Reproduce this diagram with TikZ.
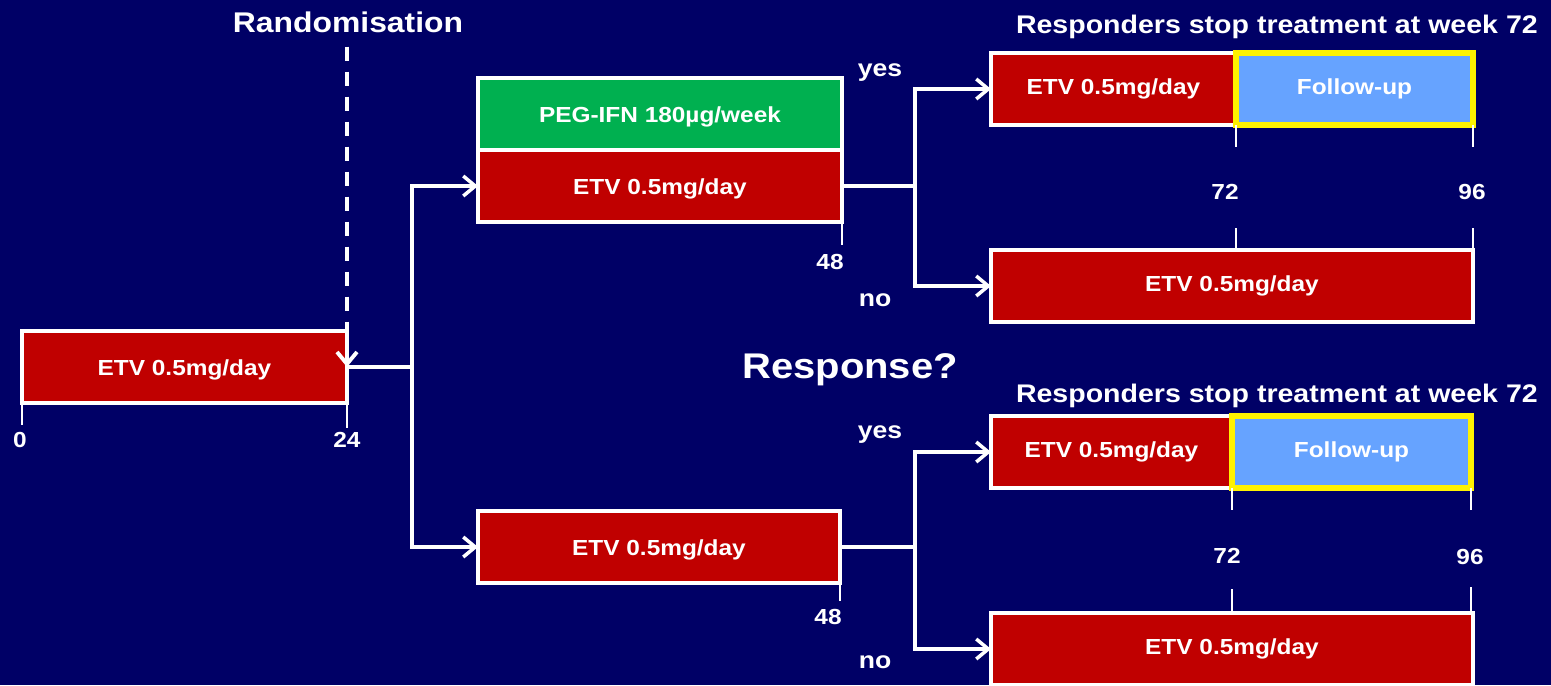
\documentclass[tikz,border=0pt]{standalone}
\usepackage{fontspec}
\setmainfont{Liberation Sans}[FakeStretch=1.12]
\usepackage{tikz}
\usetikzlibrary{positioning, arrows.meta, calc}

\definecolor{navybg}{HTML}{000066}
\definecolor{etvred}{HTML}{C00000}
\definecolor{peggreen}{HTML}{00B050}
\definecolor{fublue}{HTML}{66A3FF}

\begin{document}
\begin{tikzpicture}[
    bar/.style={draw=white, line width=2pt, text=white, inner sep=0pt, outer sep=0pt,
        minimum height=1.44cm, font=\bfseries\fontsize{12.4}{14}\selectfont},
    etv/.style={bar, fill=etvred},
    lowtext/.style={text height=1.1em, text depth=0.12em},
    link/.style={white, line width=2pt},
    arr/.style={link, -{Straight Barb[length=2.4mm, width=4mm]}},
    tick/.style={white, line width=1.3pt},
    lbl/.style={text=white, font=\bfseries\fontsize{12.4}{14}\selectfont},
    answer/.style={text=white, font=\bfseries\fontsize{13.5}{15}\selectfont},
    header/.style={text=white, anchor=east, font=\bfseries\fontsize{14.5}{16}\selectfont}
]
    % --- BACKGROUND ---
    \fill[navybg] (0,0) rectangle (31.02,-13.7);
    \useasboundingbox (0,0) rectangle (31.02,-13.7);

    % --- RUN-IN: WEEKS 0 TO 24 ---
    \node[etv, lowtext, minimum width=6.5cm] (start) at (3.69,-7.34) {ETV 0.5mg/day};
    \node[text=white, font=\bfseries\fontsize{16.2}{18}\selectfont] (randlbl) at (6.96,-0.44) {Randomisation};
    \draw[link, line width=2.2pt, dash pattern=on 0.28cm off 0.22cm, -{Straight Barb[length=2.4mm, width=4mm]}]
        ($(randlbl.south -| start.east)+(0,-0.16)$) -- (start.east);

    \draw[tick] (start.south west) -- ++(0,-0.44);
    \draw[tick] (start.south east) -- ++(0,-0.5);
    \node[lbl] (w0) at (0.4,-8.8) {0};
    \node[lbl] (w24) at (6.94,-8.8) {24};

    % --- RANDOMISED ARMS ---
    \node[bar, lowtext, fill=peggreen, minimum width=7.28cm] (pegA) at (13.2,-2.28) {PEG-IFN 180\textmu g/week};
    \node[etv, lowtext, minimum width=7.28cm, below=0pt of pegA] (etvA) {ETV 0.5mg/day};
    \node[etv, lowtext, minimum width=7.24cm] (etvB) at (13.18,-10.94) {ETV 0.5mg/day};

    \coordinate (jS) at ($(start.east)+(1.3,0)$);
    \draw[link] (start.east) -- (jS);
    \draw[arr] (jS) |- (etvA.west);
    \draw[arr] (jS) |- (etvB.west);

    \draw[tick] (etvA.south east) -- ++(0,-0.46);
    \draw[tick] (etvB.south east) -- ++(0,-0.36);
    \node[lbl] (w48a) at (16.6,-5.24) {48};
    \node[lbl] (w48b) at (16.56,-12.34) {48};

    \node[text=white, font=\bfseries\fontsize{20.3}{22}\selectfont] (resp) at (17.0,-7.4) {Response?};

    % --- UPPER ARM: RESPONSE AT WEEK 48 ---
    \node[header] (hdrA) at (30.88,-0.54) {Responders stop treatment at week 72};
    \node[etv, minimum width=4.9cm] (etvAy) at (22.27,-1.78) {ETV 0.5mg/day};
    \node[bar, fill=fublue, minimum width=4.74cm, right=0pt of etvAy] (fuAy) {Follow-up};
    \draw[yellow, line width=3pt] (fuAy.south west) rectangle (fuAy.north east);
    \node[etv, minimum width=9.64cm] (etvAn) at (24.64,-5.72) {ETV 0.5mg/day};

    \coordinate (jA) at ($(etvA.east)+(1.46,0)$);
    \draw[link] (etvA.east) -- (jA);
    \draw[arr] (jA) |- (etvAy.west);
    \draw[arr] (jA) |- (etvAn.west);
    \node[answer] (yesA) at (17.6,-1.46) {yes};
    \node[answer] (noA) at (17.5,-6.0) {no};

    \draw[tick] (fuAy.south west) -- ++(0,-0.44);
    \draw[tick] (fuAy.south east) -- ++(0,-0.44);
    \draw[tick] (etvAn.north -| fuAy.west) -- ++(0,0.44);
    \draw[tick] (etvAn.north east) -- ++(0,0.44);
    \node[lbl] (w72a) at (24.5,-3.84) {72};
    \node[lbl] (w96a) at (29.44,-3.84) {96};

    % --- LOWER ARM: RESPONSE AT WEEK 48 ---
    \node[header] (hdrB) at (30.88,-7.92) {Responders stop treatment at week 72};
    \node[etv, minimum width=4.82cm] (etvBy) at (22.23,-9.04) {ETV 0.5mg/day};
    \node[bar, fill=fublue, minimum width=4.78cm, right=0pt of etvBy] (fuBy) {Follow-up};
    \draw[yellow, line width=3pt] (fuBy.south west) rectangle (fuBy.north east);
    \node[etv, minimum width=9.64cm] (etvBn) at (24.64,-12.98) {ETV 0.5mg/day};

    \coordinate (jB) at ($(etvB.east)+(1.5,0)$);
    \draw[link] (etvB.east) -- (jB);
    \draw[arr] (jB) |- (etvBy.west);
    \draw[arr] (jB) |- (etvBn.west);
    \node[answer] (yesB) at (17.6,-8.7) {yes};
    \node[answer] (noB) at (17.5,-13.24) {no};

    \draw[tick] (fuBy.south west) -- ++(0,-0.44);
    \draw[tick] (fuBy.south east) -- ++(0,-0.44);
    \draw[tick] (etvBn.north -| fuBy.west) -- ++(0,0.48);
    \draw[tick] (etvBn.north -| fuBy.east) -- ++(0,0.52);
    \node[lbl] (w72b) at (24.54,-11.12) {72};
    \node[lbl] (w96b) at (29.4,-11.14) {96};
\end{tikzpicture}
\end{document}
